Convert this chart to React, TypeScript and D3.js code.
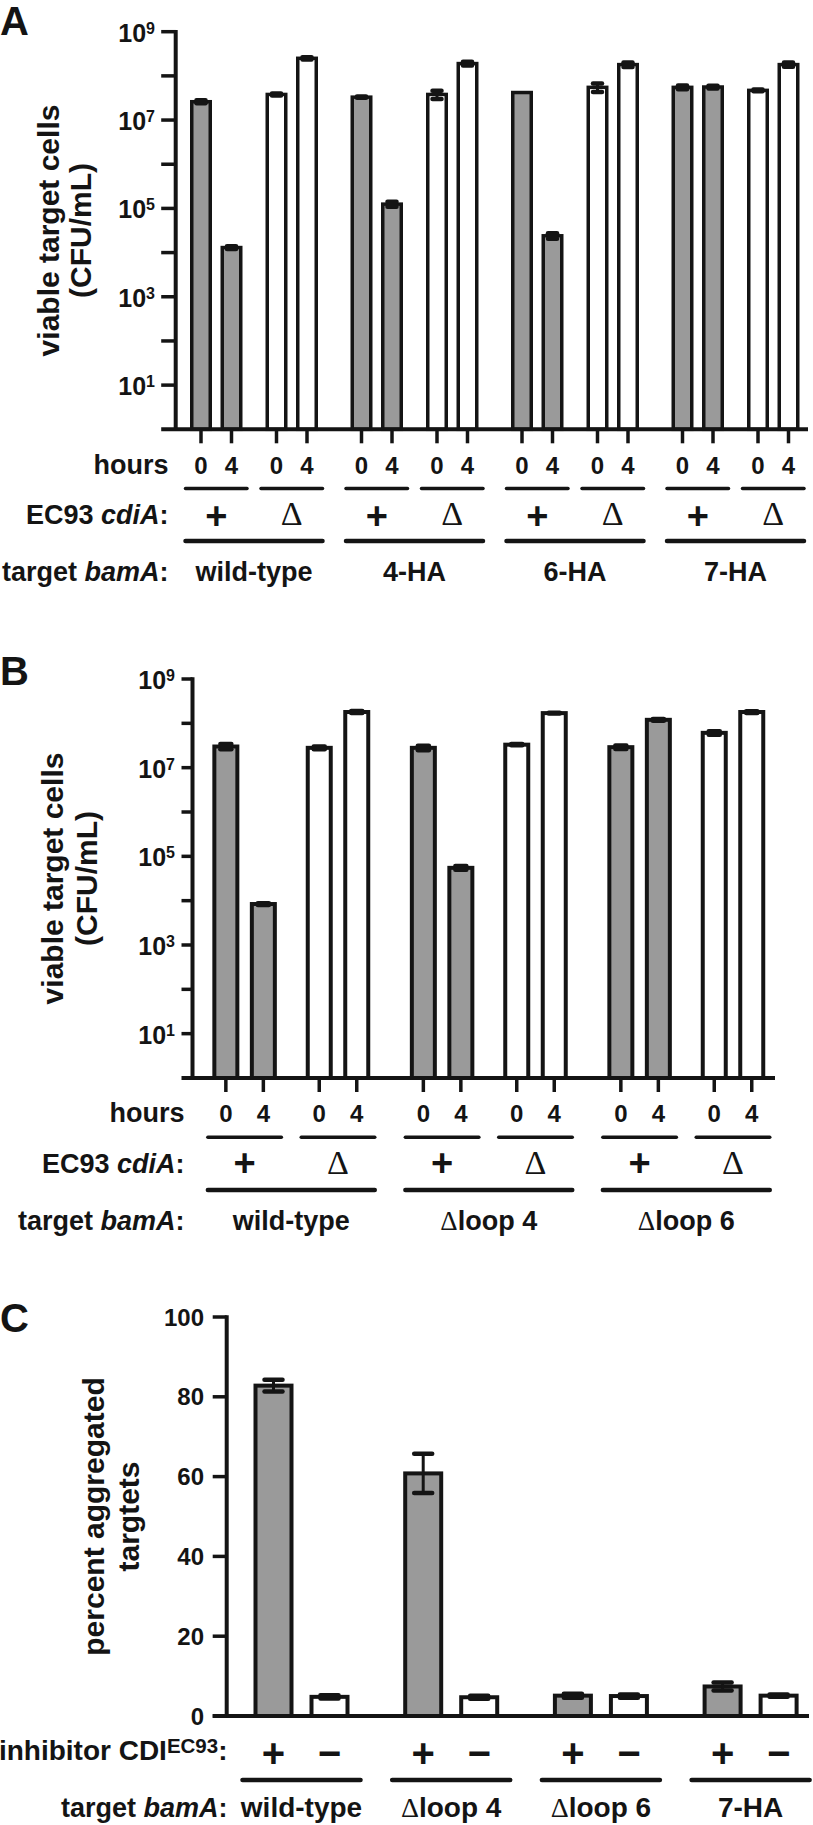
import { useEffect, useRef } from "react";
import { select, scaleLinear, scaleLog, scalePoint } from "d3";

const W = 813;
const H = 1825;
const SANS = "'Liberation Sans', Arial, Helvetica, sans-serif";
const SERIF = "'Liberation Serif', 'Times New Roman', serif";
const INK = "#141414";
const GRAY = "#9a9a9a";

// shared x labels for A and B
const HOURS = ["0", "4"];
const CDIA = ["+", "Δ"];

// panel A (bars ordered group > cdiA > hours)
const A_GROUPS = ["wild-type", "4-HA", "6-HA", "7-HA"];
const A_MEANS = [2.6e7, 1.3e4, 3.8e7, 2.5e8, 3.3e7, 1.25e5, 3.8e7, 1.9e8, 4.2e7, 2.4e4, 5.5e7, 1.8e8, 5.5e7, 5.6e7, 4.7e7, 1.8e8];
const A_ERRS = [2e6, 1e3, 2e6, 1.5e7, 1e6, 1.6e4, 8e6, 1.9e7, 0, 3.5e3, 1.2e7, 2.2e7, 5.5e6, 4e6, 2e6, 2e7];

// panel B
const B_GROUPS = ["wild-type", "Δloop 4", "Δloop 6"];
const B_MEANS = [3.0e7, 8.4e3, 2.8e7, 1.8e8, 2.8e7, 5.5e4, 3.3e7, 1.7e8, 2.9e7, 1.2e8, 6.1e7, 1.8e8];
const B_ERRS = [4e6, 4e2, 2e6, 1e7, 3.4e6, 5.5e3, 1e6, 3e6, 2.6e6, 6e6, 5.5e6, 8e6];

const LOG_MAJOR = [1e1, 1e3, 1e5, 1e7, 1e9];
const LOG_MINOR = [1e2, 1e4, 1e6, 1e8];

// panel C
const INHIBITOR = ["+", "−"];
const C_GROUPS = ["wild-type", "Δloop 4", "Δloop 6", "7-HA"];
const C_MEANS = [82.8, 4.8, 60.8, 4.7, 5.1, 5.0, 7.4, 5.1];
const C_ERRS = [1.5, 0.4, 4.9, 0.4, 0.5, 0.4, 1.0, 0.3];
const C_TICKS = [0, 20, 40, 60, 80, 100];

////
// layout (pixels)
const LAYOUT_A = {
  letter: "A", letterY: 35,
  axisX: 175.7, top: 31.7, bottom: 429.3, right: 808, tick: 14.5,
  groupStart: 254, groupStep: 160.5, pairHalf: 37.75, hourHalf: 15.25,
  barW: 22, stroke: 3.5, capW: 9,
  titleX: [59, 91], tickRight: 155, labelRight: 168.5,
  rowHours: 474, rowPairLine: 488.5, rowPlus: 515.5, rowCdia: 524,
  rowGroupLine: 541, rowTarget: 581,
};
const LAYOUT_B = {
  letter: "B", letterY: 685,
  axisX: 192.5, top: 679, bottom: 1078, right: 775, tick: 11,
  groupStart: 291.3, groupStep: 197.5, pairHalf: 46.7, hourHalf: 18.75,
  barW: 27, stroke: 4, capW: 11,
  titleX: [63, 97], tickRight: 175, labelRight: 184.5,
  rowHours: 1121.7, rowPairLine: 1137.3, rowPlus: 1163.3, rowCdia: 1172.7,
  rowGroupLine: 1190, rowTarget: 1230,
};
const LAYOUT_C = {
  letterY: 1332,
  axisX: 226.7, top: 1317, bottom: 1716, right: 809, tick: 14,
  groupStart: 301.5, groupStep: 149.7, pairHalf: 28,
  barW: 40, stroke: 4, capW: 18,
  titleX: [104, 139], tickRight: 204, labelRight: 227.5,
  rowSign: 1753, rowInhib: 1760, rowGroupLine: 1780, rowTarget: 1816.5,
};

// text helpers
const withDelta = (sel: any, text: string) => {
  if (text.startsWith("Δ")) {
    sel.append("tspan").attr("font-family", SERIF).attr("font-weight", "normal").text("Δ");
    sel.append("tspan").text(text.slice(1));
  } else {
    sel.text(text);
  }
};

const rich = (g: any, x: number, y: number, size: number, parts: [string, boolean][]) => {
  const t = g
    .append("text")
    .attr("x", x)
    .attr("y", y)
    .attr("text-anchor", "end")
    .attr("font-size", size)
    .attr("font-weight", "bold")
    .attr("font-family", SANS)
    .attr("fill", INK);
  parts.forEach(([s, it]) => t.append("tspan").attr("font-style", it ? "italic" : "normal").text(s));
  return t;
};

const letter = (g: any, s: string, y: number) =>
  g.append("text").attr("x", 0).attr("y", y).attr("font-size", 40).attr("font-weight", "bold")
    .attr("font-family", SANS).attr("fill", INK).text(s);

const yTitle = (g: any, xs: number[], cy: number, lines: string[]) =>
  lines.forEach((s, i) =>
    g.append("text")
      .attr("transform", `translate(${xs[i]}, ${cy}) rotate(-90)`)
      .attr("text-anchor", "middle").attr("font-size", 30).attr("font-weight", "bold")
      .attr("font-family", SANS).attr("fill", INK).text(s));

const errorBars = (g: any, data: any[], y: any, capW: number) => {
  const eb = g.append("g").attr("stroke", INK);
  eb.selectAll("line.stem").data(data).join("line")
    .attr("class", "stem")
    .attr("x1", (d: any) => d.x).attr("x2", (d: any) => d.x)
    .attr("y1", (d: any) => y(d.v + d.e)).attr("y2", (d: any) => y(d.v - d.e))
    .attr("stroke-width", 3);
  eb.selectAll("line.cap")
    .data(data.flatMap((d: any) => [{ x: d.x, v: d.v + d.e }, { x: d.x, v: d.v - d.e }]))
    .join("line")
    .attr("class", "cap")
    .attr("x1", (d: any) => d.x - capW / 2).attr("x2", (d: any) => d.x + capW / 2)
    .attr("y1", (d: any) => y(d.v)).attr("y2", (d: any) => y(d.v))
    .attr("stroke-width", 4.5).attr("stroke-linecap", "round");
};

////
/////
function drawLogPanel(svg: any, L: any, groups: string[], means: number[], errs: number[]) {
  const g = svg.append("g");
  const y = scaleLog().domain([1, 1e9]).range([L.bottom, L.top]);
  const gx = scalePoint<string>().domain(groups)
    .range([L.groupStart, L.groupStart + L.groupStep * (groups.length - 1)]);
  const px = scalePoint<string>().domain(CDIA).range([-L.pairHalf, L.pairHalf]);
  const hx = scalePoint<string>().domain(HOURS).range([-L.hourHalf, L.hourHalf]);
  //
  const bars = groups.flatMap((grp, gi) =>
    CDIA.flatMap((c, ci) =>
      HOURS.map((h, hi) => {
        const i = gi * 4 + ci * 2 + hi;
        return { grp, c, h, v: means[i], e: errs[i], x: (gx(grp) as number) + (px(c) as number) + (hx(h) as number) };
      })));
  const pairs = groups.flatMap((grp) => CDIA.map((c) => ({ c, x: (gx(grp) as number) + (px(c) as number) })));
  const pairLine = L.hourHalf + L.barW / 2 + 4.5;
  const groupLine = L.pairHalf + pairLine;
  //
  letter(g, L.letter, L.letterY);
  yTitle(g, L.titleX, (L.top + L.bottom) / 2, ["viable target cells", "(CFU/mL)"]);
  //
  // bars
  g.selectAll("rect.bar").data(bars).join("rect")
    .attr("x", (d: any) => d.x - (L.barW - L.stroke) / 2)
    .attr("y", (d: any) => y(d.v))
    .attr("width", L.barW - L.stroke)
    .attr("height", (d: any) => L.bottom - y(d.v))
    .attr("fill", (d: any) => (d.c === "+" ? GRAY : "#fff"))
    .attr("stroke", INK)
    .attr("stroke-width", L.stroke);
  errorBars(g, bars.filter((d) => d.e > 0), y, L.capW);
  //
  // axes
  const ax = g.append("g").attr("stroke", INK);
  ax.append("line").attr("x1", L.axisX).attr("x2", L.axisX)
    .attr("y1", L.top - 1.75).attr("y2", L.bottom).attr("stroke-width", 4);
  ax.append("line").attr("x1", L.axisX - L.tick).attr("x2", L.right)
    .attr("y1", L.bottom).attr("y2", L.bottom).attr("stroke-width", 4);
  ax.selectAll("line.ytick").data([...LOG_MAJOR, ...LOG_MINOR]).join("line")
    .attr("x1", L.axisX - L.tick).attr("x2", L.axisX)
    .attr("y1", (d: number) => y(d)).attr("y2", (d: number) => y(d))
    .attr("stroke-width", 3.5);
  ax.selectAll("line.xtick").data(bars).join("line")
    .attr("x1", (d: any) => d.x).attr("x2", (d: any) => d.x)
    .attr("y1", L.bottom).attr("y2", L.bottom + 14)
    .attr("stroke-width", 3.5);
  //
  const tl = g.selectAll("text.ytl").data(LOG_MAJOR).join("text")
    .attr("x", L.tickRight).attr("y", (d: number) => y(d) + 10)
    .attr("text-anchor", "end").attr("font-size", 25).attr("font-weight", "bold")
    .attr("font-family", SANS).attr("fill", INK);
  tl.append("tspan").text("10");
  tl.append("tspan").attr("font-size", 16).attr("dy", -8).text((d: number) => Math.round(Math.log10(d)));
  //
  // category rows
  g.selectAll("text.hr").data(bars).join("text")
    .attr("x", (d: any) => d.x).attr("y", L.rowHours)
    .attr("text-anchor", "middle").attr("font-size", 24).attr("font-weight", "bold")
    .attr("font-family", SANS).attr("fill", INK).text((d: any) => d.h);
  g.selectAll("line.pl").data(pairs).join("line")
    .attr("x1", (d: any) => d.x - pairLine).attr("x2", (d: any) => d.x + pairLine)
    .attr("y1", L.rowPairLine).attr("y2", L.rowPairLine)
    .attr("stroke", INK).attr("stroke-width", 3.5).attr("stroke-linecap", "round");
  pairs.forEach((d) => {
    if (d.c === "+") {
      g.append("text").attr("x", d.x).attr("y", L.rowPlus).attr("dominant-baseline", "central")
        .attr("text-anchor", "middle").attr("font-size", 38).attr("font-weight", "bold")
        .attr("font-family", SANS).attr("fill", INK).text(d.c);
    } else {
      g.append("text").attr("x", d.x).attr("y", L.rowCdia + 1)
        .attr("text-anchor", "middle").attr("font-size", 34)
        .attr("font-family", SERIF).attr("fill", INK).text(d.c);
    }
  });
  g.selectAll("line.gl").data(groups).join("line")
    .attr("x1", (d: string) => (gx(d) as number) - groupLine).attr("x2", (d: string) => (gx(d) as number) + groupLine)
    .attr("y1", L.rowGroupLine).attr("y2", L.rowGroupLine)
    .attr("stroke", INK).attr("stroke-width", 4.5).attr("stroke-linecap", "round");
  g.selectAll("text.gn").data(groups).join("text")
    .attr("x", (d: string) => gx(d) as number).attr("y", L.rowTarget)
    .attr("text-anchor", "middle").attr("font-size", 27).attr("font-weight", "bold")
    .attr("font-family", SANS).attr("fill", INK)
    .each(function (this: any, d: string) { withDelta(select(this), d); });
  //
  rich(g, L.labelRight, L.rowHours, 27, [["hours", false]]);
  rich(g, L.labelRight, L.rowCdia, 27, [["EC93 ", false], ["cdiA", true], [":", false]]);
  rich(g, L.labelRight, L.rowTarget, 27, [["target ", false], ["bamA", true], [":", false]]);
}

////
/////
function drawPanelC(svg: any, L: any) {
  const g = svg.append("g");
  const y = scaleLinear().domain([0, 100]).range([L.bottom, L.top]);
  const gx = scalePoint<string>().domain(C_GROUPS)
    .range([L.groupStart, L.groupStart + L.groupStep * (C_GROUPS.length - 1)]);
  const px = scalePoint<string>().domain(INHIBITOR).range([-L.pairHalf, L.pairHalf]);
  const bars = C_GROUPS.flatMap((grp, gi) =>
    INHIBITOR.map((s, si) => {
      const i = gi * 2 + si;
      return { grp, s, v: C_MEANS[i], e: C_ERRS[i], x: (gx(grp) as number) + (px(s) as number) };
    }));
  const groupLine = L.pairHalf + L.barW / 2 + 11;
  //
  letter(g, "C", L.letterY);
  yTitle(g, L.titleX, (L.top + L.bottom) / 2, ["percent aggregated", "targtets"]);
  //
  g.selectAll("rect.bar").data(bars).join("rect")
    .attr("x", (d: any) => d.x - (L.barW - L.stroke) / 2)
    .attr("y", (d: any) => y(d.v))
    .attr("width", L.barW - L.stroke)
    .attr("height", (d: any) => L.bottom - y(d.v))
    .attr("fill", (d: any) => (d.s === "+" ? GRAY : "#fff"))
    .attr("stroke", INK)
    .attr("stroke-width", L.stroke);
  errorBars(g, bars, y, L.capW);
  //
  const ax = g.append("g").attr("stroke", INK);
  ax.append("line").attr("x1", L.axisX).attr("x2", L.axisX)
    .attr("y1", L.top - 1.75).attr("y2", L.bottom).attr("stroke-width", 4);
  ax.append("line").attr("x1", L.axisX - L.tick).attr("x2", L.right)
    .attr("y1", L.bottom).attr("y2", L.bottom).attr("stroke-width", 4);
  ax.selectAll("line.ytick").data(C_TICKS).join("line")
    .attr("x1", L.axisX - L.tick).attr("x2", L.axisX)
    .attr("y1", (d: number) => y(d)).attr("y2", (d: number) => y(d))
    .attr("stroke-width", 3.5);
  g.selectAll("text.ytl").data(C_TICKS).join("text")
    .attr("x", L.tickRight).attr("y", (d: number) => y(d) + 8.5)
    .attr("text-anchor", "end").attr("font-size", 24).attr("font-weight", "bold")
    .attr("font-family", SANS).attr("fill", INK).text((d: number) => d);
  //
  g.selectAll("text.sg").data(bars).join("text")
    .attr("x", (d: any) => d.x).attr("y", L.rowSign).attr("dominant-baseline", "central")
    .attr("text-anchor", "middle").attr("font-size", 40).attr("font-weight", "bold")
    .attr("font-family", SANS).attr("fill", INK).text((d: any) => d.s);
  g.selectAll("line.gl").data(C_GROUPS).join("line")
    .attr("x1", (d: string) => (gx(d) as number) - groupLine).attr("x2", (d: string) => (gx(d) as number) + groupLine)
    .attr("y1", L.rowGroupLine).attr("y2", L.rowGroupLine)
    .attr("stroke", INK).attr("stroke-width", 4.5).attr("stroke-linecap", "round");
  g.selectAll("text.gn").data(C_GROUPS).join("text")
    .attr("x", (d: string) => gx(d) as number).attr("y", L.rowTarget)
    .attr("text-anchor", "middle").attr("font-size", 28).attr("font-weight", "bold")
    .attr("font-family", SANS).attr("fill", INK)
    .each(function (this: any, d: string) { withDelta(select(this), d); });
  //
  const inh = rich(g, L.labelRight, L.rowInhib, 28, [["inhibitor CDI", false]]);
  inh.append("tspan").attr("font-size", 20.5).attr("dy", -7).text("EC93");
  inh.append("tspan").attr("dy", 7).text(":");
  rich(g, L.labelRight, L.rowTarget, 27, [["target ", false], ["bamA", true], [":", false]]);
}

//
export default function App() {
  const ref = useRef<SVGSVGElement>(null);
  useEffect(() => {
    if (!ref.current) return;
    const svg = select(ref.current);
    svg.selectAll("*").remove();
    svg.append("rect").attr("width", W).attr("height", H).attr("fill", "#fff");
    drawLogPanel(svg, LAYOUT_A, A_GROUPS, A_MEANS, A_ERRS);
    drawLogPanel(svg, LAYOUT_B, B_GROUPS, B_MEANS, B_ERRS);
    drawPanelC(svg, LAYOUT_C);
  }, []);
  return (
    <svg
      ref={ref}
      width={W}
      height={H}
      style={{ position: "absolute", left: 0, top: 0, display: "block" }}
    />
  );
}
